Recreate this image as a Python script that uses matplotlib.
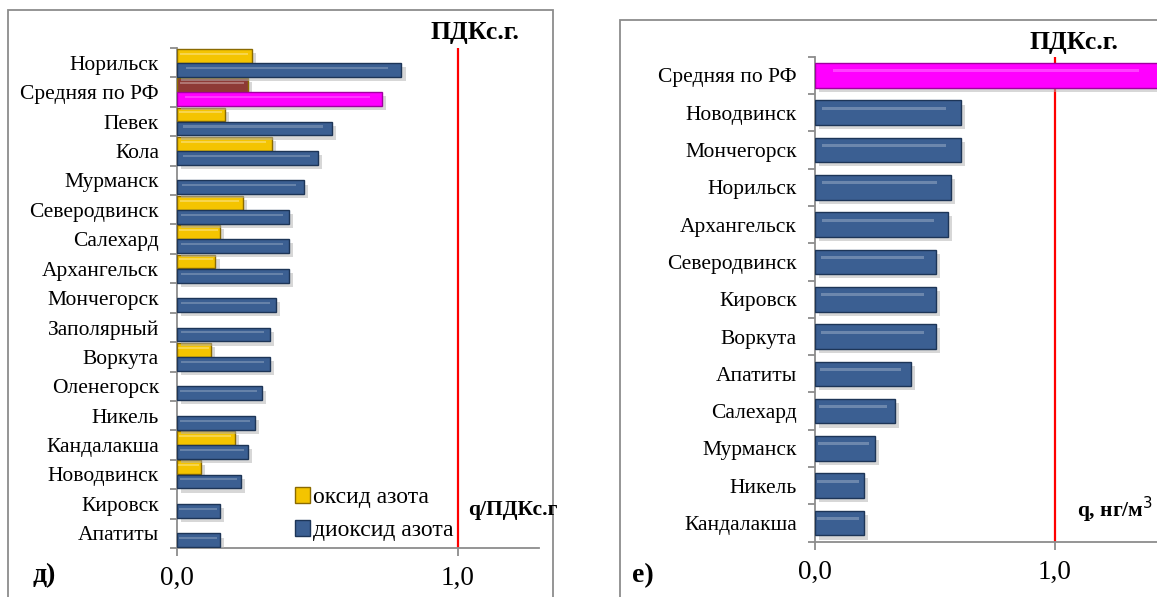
import numpy as np
import matplotlib.pyplot as plt
import matplotlib.patheffects as pe
from matplotlib.patches import Rectangle, Patch

plt.rcParams['font.family'] = ['Liberation Serif', 'DejaVu Serif']

# panel д) - NO / NO2, q/ПДКс.г (top to bottom)
cities_d = ['Норильск', 'Средняя по РФ', 'Певек', 'Кола', 'Мурманск', 'Северодвинск',
            'Салехард', 'Архангельск', 'Мончегорск', 'Заполярный', 'Воркута',
            'Оленегорск', 'Никель', 'Кандалакша', 'Новодвинск', 'Кировск', 'Апатиты']
no2_d = [0.80, 0.73, 0.553, 0.503, 0.452, 0.40, 0.40, 0.40, 0.353, 0.33, 0.33,
         0.304, 0.278, 0.253, 0.227, 0.153, 0.153]
no_d = [0.268, 0.254, 0.17, 0.338, np.nan, 0.235, 0.154, 0.137, np.nan, np.nan, 0.12,
        np.nan, np.nan, 0.205, 0.085, np.nan, np.nan]

# panel е) - q, нг/м3 relative to ПДК (top to bottom)
cities_e = ['Средняя по РФ', 'Новодвинск', 'Мончегорск', 'Норильск', 'Архангельск',
            'Северодвинск', 'Кировск', 'Воркута', 'Апатиты', 'Салехард', 'Мурманск',
            'Никель', 'Кандалакша']
vals_e = [1.50, 0.607, 0.607, 0.565, 0.553, 0.503, 0.503, 0.503, 0.40, 0.334, 0.25,
          0.203, 0.203]

BLUE = '#3b5f92'
BLUE_EDGE = '#1d3557'
YELLOW = '#f4c400'
YELLOW_EDGE = '#8a6a00'
BROWN = '#8e3a36'
MAGENTA = '#ff00ff'
GRAY = '#8c8c8c'

shadow = [pe.SimplePatchShadow(offset=(3, -3), shadow_rgbFace='#b0b0b0', alpha=0.5), pe.Normal()]

fig = plt.figure(figsize=(11.57, 5.97), dpi=100)

# outer frames of the two panels
fig.add_artist(Rectangle((8 / 1157, -0.1), (553 - 8) / 1157, (597 - 10) / 597 + 0.1,
                         transform=fig.transFigure, fill=False, edgecolor=GRAY, lw=1.3))
fig.add_artist(Rectangle((620 / 1157, -0.1), 0.6, (597 - 20) / 597 + 0.1,
                         transform=fig.transFigure, fill=False, edgecolor=GRAY, lw=1.3))


def style_axis(ax, labels, xmax):
    n = len(labels)
    ax.set_ylim(n - 0.5, -0.5)
    ax.set_xlim(0, xmax)
    for s in ['top', 'right']:
        ax.spines[s].set_visible(False)
    for s in ['left', 'bottom']:
        ax.spines[s].set_color(GRAY)
        ax.spines[s].set_linewidth(1.3)
    ax.set_yticks(np.arange(n))
    ax.set_yticklabels(labels, fontsize=15.5)
    ax.set_yticks(np.arange(n + 1) - 0.5, minor=True)
    ax.tick_params(axis='y', which='major', length=0, pad=13)
    ax.tick_params(axis='y', which='minor', length=5, color=GRAY, width=1.3)
    ax.set_xticks([0, 1])
    ax.set_xticklabels(['0,0', '1,0'], fontsize=19.5)
    ax.tick_params(axis='x', length=6, color=GRAY, width=1.3, pad=7)
    ax.axvline(1.0, color='red', lw=1.6, zorder=1)


# ---------- д) ----------
ax1 = fig.add_axes([177 / 1157, (597 - 548) / 597, (539 - 177) / 1157, 500 / 597])
y1 = np.arange(len(cities_d))
h = 0.47
no2_colors = [MAGENTA if c == 'Средняя по РФ' else BLUE for c in cities_d]
no2_edges = ['#a000a0' if c == 'Средняя по РФ' else BLUE_EDGE for c in cities_d]
no_colors = [BROWN if c == 'Средняя по РФ' else YELLOW for c in cities_d]
b_no = ax1.barh(y1 - 0.24, no_d, height=h, color=no_colors, edgecolor=YELLOW_EDGE,
                lw=1, zorder=3, label='оксид азота')
b_no2 = ax1.barh(y1 + 0.24, no2_d, height=h, color=no2_colors, edgecolor=no2_edges,
                 lw=1, zorder=3, label='диоксид азота')
for b in list(b_no) + list(b_no2):
    b.set_path_effects(shadow)
# glossy highlight
ax1.barh(y1 + 0.17, np.array(no2_d) * 0.9, left=np.array(no2_d) * 0.04, height=0.07,
         color='white', alpha=0.22, lw=0, zorder=4)
ax1.barh(y1 - 0.31, np.array(no_d) * 0.9, left=np.array(no_d) * 0.04, height=0.07,
         color='white', alpha=0.3, lw=0, zorder=4)
style_axis(ax1, cities_d, 1.29)

ax1.legend(handles=[Patch(facecolor=YELLOW, edgecolor=YELLOW_EDGE, label='оксид азота'),
                    Patch(facecolor=BLUE, edgecolor=BLUE_EDGE, label='диоксид азота')],
           loc='center left', bbox_to_anchor=(283 / 1157, (597 - 514) / 597),
           bbox_transform=fig.transFigure, frameon=False, fontsize=17,
           handlelength=0.65, handleheight=0.7, handletextpad=0.1, labelspacing=0.5,
           borderpad=0)

fig.text(475 / 1157, 1 - 32 / 597, 'ПДКс.г.', fontsize=18.5, fontweight='bold',
         ha='center', va='center')
fig.text(513 / 1157, 1 - 510 / 597, 'q/ПДКс.г', fontsize=15.5, fontweight='bold',
         ha='center', va='center')
fig.text(44 / 1157, 1 - 576 / 597, 'д)', fontsize=20, fontweight='bold',
         ha='center', va='center')

# ---------- е) ----------
ax2 = fig.add_axes([815 / 1157, (597 - 541.7) / 597, 1.6 * 240 / 1157, 485 / 597])
y2 = np.arange(len(cities_e))
e_colors = [MAGENTA if c == 'Средняя по РФ' else BLUE for c in cities_e]
e_edges = ['#a000a0' if c == 'Средняя по РФ' else BLUE_EDGE for c in cities_e]
b_e = ax2.barh(y2, vals_e, height=0.66, color=e_colors, edgecolor=e_edges, lw=1, zorder=3)
for b in b_e:
    b.set_path_effects(shadow)
ax2.barh(y2 - 0.12, np.array(vals_e) * 0.85, left=np.array(vals_e) * 0.05, height=0.08,
         color='white', alpha=0.25, lw=0, zorder=4)
style_axis(ax2, cities_e, 1.6)

fig.text(1074 / 1157, 1 - 43 / 597, 'ПДКс.г.', fontsize=18.5, fontweight='bold',
         ha='center', va='center')
fig.text(1077 / 1157, 1 - 510 / 597, 'q, нг/м$^3$', fontsize=15.5, fontweight='bold',
         ha='left', va='center')
fig.text(643 / 1157, 1 - 576 / 597, 'е)', fontsize=20, fontweight='bold',
         ha='center', va='center')

fig.savefig('out.png', dpi=100)
